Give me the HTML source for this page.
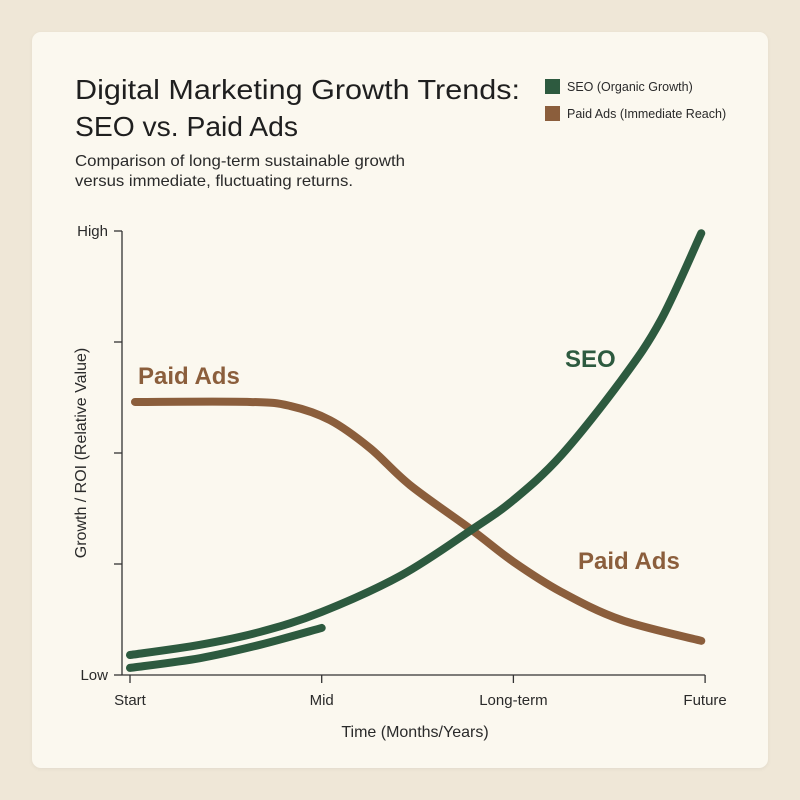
<!DOCTYPE html>
<html><head><meta charset="utf-8">
<style>
html,body{margin:0;padding:0;background:#efe7d7;}
body{width:800px;height:800px;position:relative;font-family:"Liberation Sans",sans-serif;overflow:hidden;}
#card{position:absolute;left:32px;top:32px;width:736px;height:736px;background:#fbf8ef;border-radius:9px;box-shadow:0 1px 4px rgba(0,0,0,0.06);}
svg{position:absolute;left:0;top:0;}
</style></head>
<body>
<div id="card"></div>
<svg id="chart" width="800" height="800">
  <text x="75" y="99" font-size="28" fill="#1f1f1f" textLength="445" lengthAdjust="spacingAndGlyphs">Digital Marketing Growth Trends:</text>
  <text x="75" y="136" font-size="28" fill="#1f1f1f" textLength="223" lengthAdjust="spacingAndGlyphs">SEO vs. Paid Ads</text>
  <text x="75" y="166" font-size="16" fill="#2a2a2a" textLength="330" lengthAdjust="spacingAndGlyphs">Comparison of long-term sustainable growth</text>
  <text x="75" y="186" font-size="16" fill="#2a2a2a" textLength="278" lengthAdjust="spacingAndGlyphs">versus immediate, fluctuating returns.</text>
  <g>
    <g>
      <rect x="545" y="79" width="15" height="15" fill="#2d5a3f"></rect>
      <text x="567" y="91" font-size="12.5" fill="#2a2a2a">SEO (Organic Growth)</text>
    </g>
    <g>
      <rect x="545" y="106" width="15" height="15" fill="#8b5e3c"></rect>
      <text x="567" y="118" font-size="12.5" fill="#2a2a2a">Paid Ads (Immediate Reach)</text>
    </g>
  </g>
  <g id="axes"></g>
  <g id="series"></g>
  <text x="0" y="0" font-size="16" fill="#2a2a2a" text-anchor="middle" transform="translate(86,453) rotate(-90)">Growth / ROI (Relative Value)</text>
  <text x="415" y="737" font-size="16" fill="#2a2a2a" text-anchor="middle">Time (Months/Years)</text>
  <text x="138" y="384" font-size="24" font-weight="bold" fill="#8b5e3c">Paid Ads</text>
  <text x="565" y="367" font-size="24" font-weight="bold" fill="#2d5a3f">SEO</text>
  <text x="578" y="569" font-size="24" font-weight="bold" fill="#8b5e3c">Paid Ads</text>
</svg>
<script>
const xTickLabels = ["Start","Mid","Long-term","Future"];
const yTickLabels = ["Low","","","","High"];
const seoT = [0,0.365,0.678,1,1.417,1.782,2,2.25,2.563,2.77,2.98];
const seoV = [0.045,0.068,0.097,0.142,0.225,0.327,0.394,0.495,0.664,0.80,0.995];
const seoEarlyT = [0,0.365,0.678,1];
const seoEarlyV = [0.016,0.038,0.068,0.106];
const paidT = [0.026,0.626,0.835,1.043,1.252,1.46,1.782,2,2.25,2.563,2.98];
const paidV = [0.615,0.615,0.606,0.574,0.511,0.428,0.327,0.255,0.187,0.124,0.077];

const X0=130, XW=191.7, Y0=675, YH=444;
function xs(t){return X0+t*XW;}
function ys(v){return Y0-v*YH;}
const NS="http://www.w3.org/2000/svg";
const axes=document.getElementById('axes');
const series=document.getElementById('series');
function mk(tag,attrs,parent){const e=document.createElementNS(NS,tag);for(const k in attrs)e.setAttribute(k,attrs[k]);parent.appendChild(e);return e;}

const yl=mk('line',{x1:122,y1:ys(1),x2:122,y2:Y0,stroke:'#333','stroke-width':1.3},axes);


const xl=mk('line',{x1:122,y1:Y0,x2:xs(3),y2:Y0,stroke:'#333','stroke-width':1.3},axes);


yTickLabels.forEach((lab,i)=>{
  const y=ys(i/(yTickLabels.length-1));
  const tk=mk('line',{x1:114,y1:y,x2:122,y2:y,stroke:'#333','stroke-width':1.3},axes);
  
  
  if(lab){const t=mk('text',{x:108,y:y+5,'font-size':15,fill:'#2a2a2a','text-anchor':'end'},axes);t.textContent=lab;
  
  }
});
xTickLabels.forEach((lab,i)=>{
  const x=xs(i);
  const tk=mk('line',{x1:x,y1:Y0,x2:x,y2:Y0+8,stroke:'#333','stroke-width':1.3},axes);
  
  
  const t=mk('text',{x:x,y:Y0+30,'font-size':15,fill:'#2a2a2a','text-anchor':'middle'},axes);t.textContent=lab;
  
  
});
function smooth(T,V){
  const p=T.map((t,i)=>[xs(t),ys(V[i])]);
  let d='M'+p[0][0]+','+p[0][1];
  for(let i=0;i<p.length-1;i++){
    const p0=p[i-1]||p[i],p1=p[i],p2=p[i+1],p3=p[i+2]||p2;
    const c1=[p1[0]+(p2[0]-p0[0])/6,p1[1]+(p2[1]-p0[1])/6];
    const c2=[p2[0]-(p3[0]-p1[0])/6,p2[1]-(p3[1]-p1[1])/6];
    d+=' C'+c1+' '+c2+' '+p2;
  }
  return d;
}
const s1=mk('path',{d:smooth(paidT,paidV),fill:'none',stroke:'#8b5e3c','stroke-width':8,'stroke-linecap':'round'},series);


const s2=mk('path',{d:smooth(seoEarlyT,seoEarlyV),fill:'none',stroke:'#2d5a3f','stroke-width':8,'stroke-linecap':'round'},series);


const s3=mk('path',{d:smooth(seoT,seoV),fill:'none',stroke:'#2d5a3f','stroke-width':8,'stroke-linecap':'round'},series);


</script>
</body></html>
